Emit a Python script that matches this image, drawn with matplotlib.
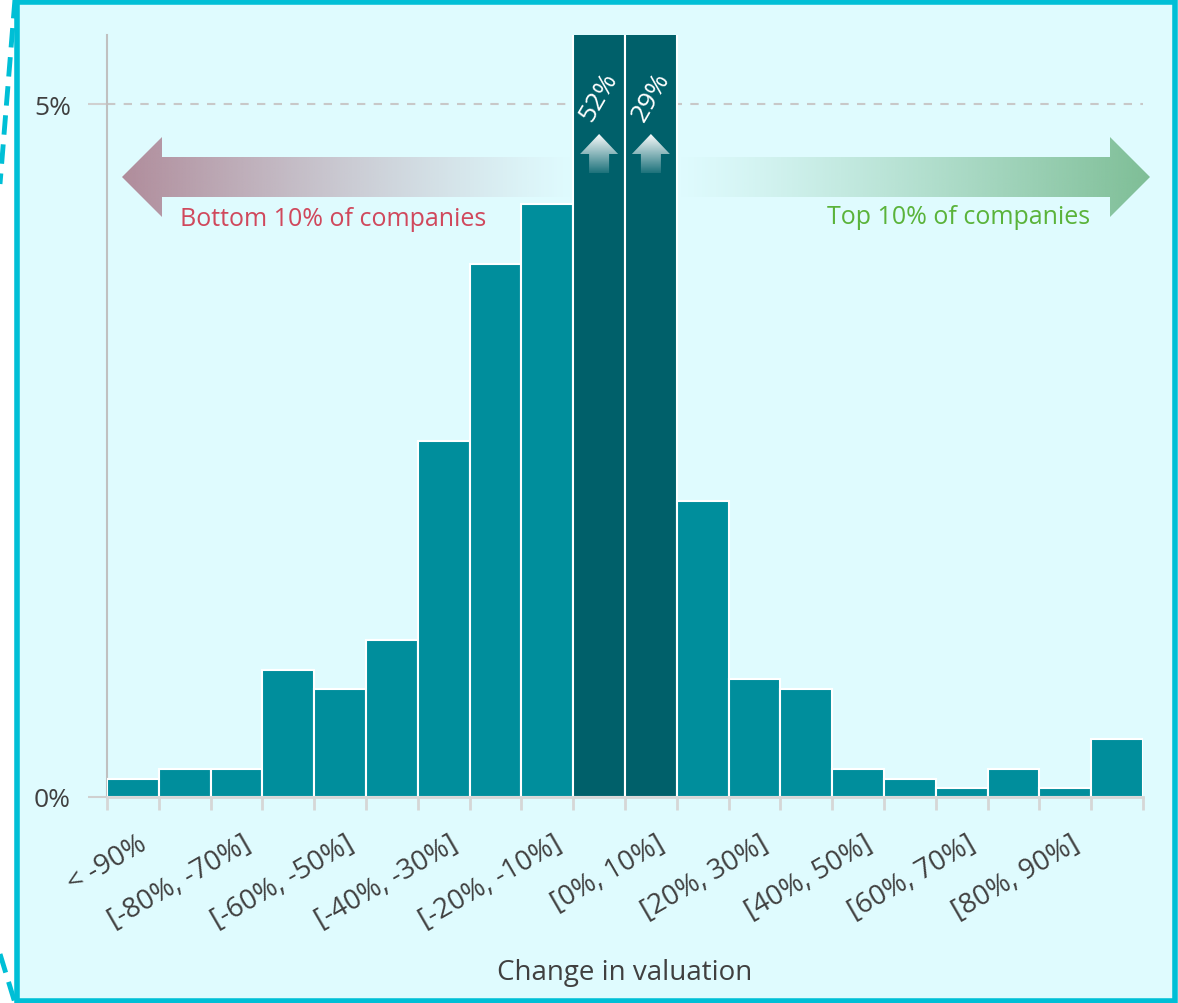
import numpy as np
import matplotlib.pyplot as plt
from matplotlib.patches import Rectangle, Polygon
from matplotlib.transforms import blended_transform_factory

plt.rcParams['font.family'] = ['Open Sans', 'DejaVu Sans']

# share of companies per valuation-change bucket (%)
categories = ['< -90%', '[-90%, -80%]', '[-80%, -70%]', '[-70%, -60%]', '[-60%, -50%]',
              '[-50%, -40%]', '[-40%, -30%]', '[-30%, -20%]', '[-20%, -10%]', '[-10%, 0%]',
              '[0%, 10%]', '[10%, 20%]', '[20%, 30%]', '[30%, 40%]', '[40%, 50%]',
              '[50%, 60%]', '[60%, 70%]', '[70%, 80%]', '[80%, 90%]', '> 90%']
shares = [0.13, 0.20, 0.20, 0.92, 0.78, 1.13, 2.57, 3.85, 4.28, 52.0,
          29.0, 2.14, 0.85, 0.78, 0.20, 0.13, 0.065, 0.20, 0.065, 0.42]
highlight = ['[-10%, 0%]', '[0%, 10%]']
y_ticks = [0, 5]
y_tick_labels = ['0%', '5%']

teal = '#008e9c'
dark_teal = '#00606a'
bg_col = '#dffbfe'
frame_col = '#00bfd6'
text_col = '#404040'

W, H = 1178, 1004
fig = plt.figure(figsize=(W / 100, H / 100), dpi=100)
fig.patch.set_facecolor('white')

# background panel with cyan frame
bg = fig.add_axes([0, 0, 1, 1], zorder=0)
bg.set_xlim(0, W)
bg.set_ylim(H, 0)
bg.axis('off')
bg.add_patch(Rectangle((17, 3), W - 20, H - 5, facecolor=bg_col, edgecolor=frame_col, lw=4))
bg.plot([15, 0], [0, 185], color=frame_col, lw=3.5, ls=(0, (4, 2)))
bg.plot([0, 15], [955, 1004], color=frame_col, lw=3.5, ls=(0, (4, 2)))

ax = fig.add_axes([107 / W, 1 - 798 / H, 1036 / W, 762 / H], zorder=1)
ax.set_facecolor('none')
x = np.arange(len(categories))
colors = [dark_teal if c in highlight else teal for c in categories]
ax.bar(x, shares, width=1.0, color=colors, edgecolor='white', lw=1.5, zorder=3)
ax.set_xlim(-0.5, len(categories) - 0.5)
ax.set_ylim(0, 5.5)

ax.axhline(5, color='#c8c8c8', lw=1.5, ls=(0, (4, 4)), zorder=1)
for s in ['top', 'right']:
    ax.spines[s].set_visible(False)
ax.spines['left'].set_color('#c0c0c0')
ax.spines['left'].set_linewidth(1.5)
ax.spines['bottom'].set_color('#d6d6d6')
ax.spines['bottom'].set_linewidth(2)
ax.spines['bottom'].set_zorder(4)

ax.set_yticks(y_ticks)
ax.set_yticklabels(y_tick_labels, fontsize=19, color=text_col)
ax.tick_params(axis='y', length=14, color='#d0d0d0', width=1.5, pad=12)
ax.set_xticks(np.arange(len(categories) + 1) - 0.5)
ax.set_xticklabels([])
ax.tick_params(axis='x', length=9, color='#d6d6d6', width=2, direction='out')

tr = blended_transform_factory(ax.transData, ax.transAxes)
for i, c in enumerate(categories):
    if i % 2 == 0:
        ax.text(i + 0.1, -0.042, c, transform=tr, rotation=30, rotation_mode='anchor',
                ha='right', va='top', fontsize=20, color=text_col)
ax.text(0.5, -0.23, 'Change in valuation', transform=ax.transAxes, ha='center',
        va='center', fontsize=20, color=text_col)


def gradient_arrow(x0, x1, yc, body, head, head_len, rgb, fade_left):
    # horizontal block arrow filled with an alpha gradient
    if fade_left:
        tip, base, tail = x1, x1 - head_len, x0
    else:
        tip, base, tail = x0, x0 + head_len, x1
    pts = [(tail, yc - body / 2), (base, yc - body / 2), (base, yc - head / 2), (tip, yc),
           (base, yc + head / 2), (base, yc + body / 2), (tail, yc + body / 2)]
    poly = Polygon(pts, closed=True, facecolor='none', edgecolor='none')
    bg.add_patch(poly)
    n = 256
    a = np.linspace(0, 1, n) ** 1.2
    if not fade_left:
        a = a[::-1]
    img = np.zeros((1, n, 4))
    img[..., :3] = rgb
    img[0, :, 3] = a
    im = bg.imshow(img, extent=[x0, x1, yc + head / 2, yc - head / 2], aspect='auto',
                   interpolation='bilinear', zorder=2)
    im.set_clip_path(poly)


gradient_arrow(122, 575, 178, 40, 80, 40, np.array([176, 140, 155]) / 255, fade_left=False)
gradient_arrow(675, 1150, 178, 40, 80, 40, np.array([126, 190, 150]) / 255, fade_left=True)

bg.text(180, 220, 'Bottom 10% of companies', fontsize=18, color='#d0485c', ha='left', va='center')
bg.text(1090, 218, 'Top 10% of companies', fontsize=18, color='#5ab33a', ha='right', va='center')

# labels on the clipped bars
for c in highlight:
    i = categories.index(c)
    ax.text(i, 5.06, f'{shares[i]:.0f}%', rotation=60, ha='center', va='center', fontsize=19,
            color='white', zorder=5)

# small white up-arrows showing the bars run off the scale
ov = fig.add_axes([0, 0, 1, 1], zorder=2)
ov.set_xlim(0, W)
ov.set_ylim(H, 0)
ov.axis('off')
for c in highlight:
    i = categories.index(c)
    cx = ax.transData.transform((i, 0))[0]
    up = Polygon([(cx, 135), (cx - 19, 155), (cx - 10, 155), (cx - 10, 174),
                  (cx + 10, 174), (cx + 10, 155), (cx + 19, 155)], closed=True,
                 facecolor='none', edgecolor='none')
    ov.add_patch(up)
    g = np.zeros((64, 1, 4))
    g[..., :3] = 1.0
    g[:, 0, 3] = np.linspace(1, 0.1, 64)
    im = ov.imshow(g, extent=[cx - 20, cx + 20, 175, 134], aspect='auto', interpolation='bilinear')
    im.set_clip_path(up)

fig.savefig('out.png', dpi=100, facecolor=fig.get_facecolor())
